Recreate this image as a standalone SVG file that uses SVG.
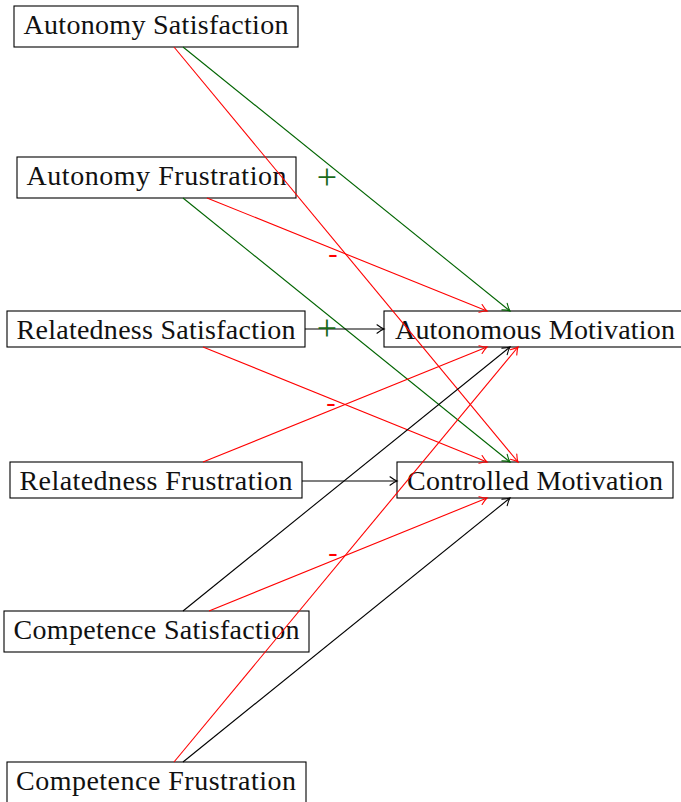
<svg xmlns="http://www.w3.org/2000/svg" width="681" height="802" viewBox="0 0 681 802">
  <style>
    .node rect { fill: none; stroke: #000; stroke-width: 1.1; }
    .node text { font-family: "Liberation Serif", "Times New Roman", serif; font-size: 28px; fill: #111; text-anchor: middle; }
    .edge { fill: none; stroke-width: 1.1; }
    .k { stroke: #000; marker-end: url(#tipK); }
    .r { stroke: #ff0000; marker-end: url(#tipR); }
    .g { stroke: #006400; marker-end: url(#tipG); }
    .lbl { font-family: "Liberation Serif", "Times New Roman", serif; text-anchor: middle; }
    .plus { font-size: 36px; fill: #1a6b1a; }
    .minus { font-size: 28px; fill: #ff0000; }
  </style>
  <defs>
    <marker id="tipK" markerUnits="userSpaceOnUse" markerWidth="12" markerHeight="12" viewBox="-9 -6 12 12" refX="0" refY="0" orient="auto" overflow="visible">
      <path d="M-7,-4.2 Q-2.6,-0.9 0,0 Q-2.6,0.9 -7,4.2" fill="none" stroke="#000" stroke-width="1.1" stroke-linecap="round"/>
    </marker>
    <marker id="tipR" markerUnits="userSpaceOnUse" markerWidth="12" markerHeight="12" viewBox="-9 -6 12 12" refX="0" refY="0" orient="auto" overflow="visible">
      <path d="M-7,-4.2 Q-2.6,-0.9 0,0 Q-2.6,0.9 -7,4.2" fill="none" stroke="#ff0000" stroke-width="1.1" stroke-linecap="round"/>
    </marker>
    <marker id="tipG" markerUnits="userSpaceOnUse" markerWidth="12" markerHeight="12" viewBox="-9 -6 12 12" refX="0" refY="0" orient="auto" overflow="visible">
      <path d="M-7,-4.2 Q-2.6,-0.9 0,0 Q-2.6,0.9 -7,4.2" fill="none" stroke="#006400" stroke-width="1.1" stroke-linecap="round"/>
    </marker>
  </defs>

  <!-- basic needs (left column) -->
  <g id="autonomy-satisfaction" class="node">
    <rect x="14" y="6" width="284" height="41"/>
    <text x="156" y="34" textLength="265" lengthAdjust="spacing">Autonomy Satisfaction</text>
  </g>
  <g id="autonomy-frustration" class="node">
    <rect x="17" y="157" width="279" height="41"/>
    <text x="156.5" y="185" textLength="260" lengthAdjust="spacing">Autonomy Frustration</text>
  </g>
  <g id="relatedness-satisfaction" class="node">
    <rect x="7" y="311" width="298" height="36"/>
    <text x="156" y="339" textLength="279" lengthAdjust="spacing">Relatedness Satisfaction</text>
  </g>
  <g id="relatedness-frustration" class="node">
    <rect x="10" y="462" width="292" height="36"/>
    <text x="156" y="490" textLength="273" lengthAdjust="spacing">Relatedness Frustration</text>
  </g>
  <g id="competence-satisfaction" class="node">
    <rect x="4" y="611" width="305" height="41"/>
    <text x="156.5" y="639" textLength="286" lengthAdjust="spacing">Competence Satisfaction</text>
  </g>
  <g id="competence-frustration" class="node">
    <rect x="7" y="762" width="299" height="41"/>
    <text x="156" y="790" textLength="280" lengthAdjust="spacing">Competence Frustration</text>
  </g>

  <!-- motivation outcomes (right column) -->
  <g id="autonomous-motivation" class="node">
    <rect x="384" y="311" width="301" height="36"/>
    <text x="535" y="339" textLength="280" lengthAdjust="spacing">Autonomous Motivation</text>
  </g>
  <g id="controlled-motivation" class="node">
    <rect x="397" y="462" width="276" height="36"/>
    <text x="535" y="490" textLength="256" lengthAdjust="spacing">Controlled Motivation</text>
  </g>

  <!-- paths -->
  <g id="connectors">
    <line class="edge g" x1="183" y1="47" x2="510" y2="311"/>
    <line class="edge r" x1="174" y1="47" x2="518" y2="462"/>
    <line class="edge r" x1="207" y1="198" x2="487" y2="311"/>
    <line class="edge g" x1="183" y1="198" x2="510" y2="462"/>
    <line class="edge k" x1="305" y1="329" x2="384" y2="329"/>
    <line class="edge r" x1="203" y1="347" x2="487" y2="462"/>
    <line class="edge r" x1="203" y1="462" x2="487" y2="347"/>
    <line class="edge k" x1="302" y1="481" x2="397" y2="481"/>
    <line class="edge k" x1="183" y1="611" x2="510" y2="347"/>
    <line class="edge r" x1="209" y1="611" x2="487" y2="498"/>
    <line class="edge r" x1="174" y1="762" x2="518" y2="347"/>
    <line class="edge k" x1="183" y1="762" x2="510" y2="498"/>

    <!-- sign labels -->
    <text class="lbl plus" x="327" y="189">+</text>
    <text class="lbl plus" x="327" y="340">+</text>
    <text class="lbl minus" x="333" y="262">-</text>
    <text class="lbl minus" x="331" y="411">-</text>
    <text class="lbl minus" x="333" y="561">-</text>
  </g>
</svg>
